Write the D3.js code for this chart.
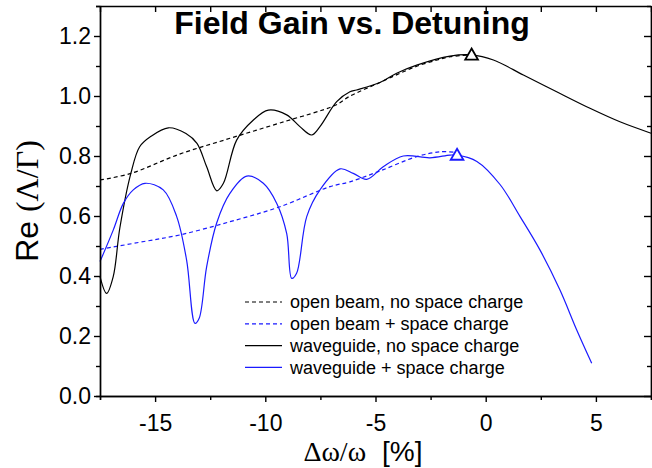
<!DOCTYPE html>
<meta charset="utf-8">
<style>
body { margin: 0; background: #fff; }
svg { display: block; }
.axis path, .axis line { stroke: #000; stroke-width: 1.4; }
.axis text { font-family: "Liberation Sans", Arial, sans-serif; font-size: 23px; fill: #000; }
.curve { fill: none; stroke-width: 1.2; }
.legend text { font-family: "Liberation Sans", Arial, sans-serif; font-size: 18px; fill: #000; }
</style>
<svg width="652" height="468"></svg>
<script src="https://d3js.org/d3.v7.min.js"></script>
<script>

// open beam, no space charge (dashed black)
var openNoScX = [-17.5, -16.1, -13.9, -11.6, -9.3, -6.8, -6.2, -4.8, -4.0, -3.1, -2.2, -1.6, -0.64];
var openNoScY = [0.720, 0.742, 0.806, 0.859, 0.911, 0.970, 0.998, 1.045, 1.072, 1.100, 1.120, 1.131, 1.137];

// open beam + space charge (dashed blue)
var openScX = [-17.5, -15.5, -13.87, -11.6, -9.33, -7.06, -6.16, -4.8, -3.13, -2.07, -1.3];
var openScY = [0.489, 0.515, 0.537, 0.581, 0.631, 0.698, 0.714, 0.750, 0.798, 0.814, 0.812];

// waveguide, no space charge (solid black)
var wgNoScX = [-17.5, -17.2, -16.9, -16.6, -16.1, -15.7, -15.2, -14.4, -13.6, -13.1, -12.66, -12.2, -11.9, -11.3, -10.54,
               -9.86, -9.03, -8.43, -7.9, -7.52, -6.76, -6.16, -5.86, -4.8, -4.04, -3.13, -1.62, -0.64, 0.35, 1.71, 3.22, 4.73, 6.09, 7.5];
var wgNoScY = [0.398, 0.342, 0.398, 0.56, 0.742, 0.831, 0.865, 0.894, 0.875, 0.842, 0.764, 0.684, 0.709, 0.853, 0.920,
               0.953, 0.937, 0.898, 0.870, 0.898, 0.981, 1.014, 1.020, 1.045, 1.076, 1.103, 1.133, 1.137, 1.12, 1.07, 1.014, 0.959, 0.914, 0.876];

// waveguide + space charge (solid blue)
var wgScX = [-17.5, -16.9, -16.44, -15.99, -15.46, -14.63, -14.02, -13.57, -13.19, -13.0, -12.66, -12.21, -11.6, -10.84, -10.09,
             -9.48, -9.03, -8.8, -8.58, -8.12, -7.52, -6.61, -6.01, -5.4, -4.65, -3.74, -2.53, -1.62, -1.3, -0.4, 0.65, 1.56,
             2.46, 3.37, 4.13, 4.81];
var wgScY = [0.448, 0.553, 0.642, 0.687, 0.709, 0.687, 0.598, 0.453, 0.242, 0.259, 0.431, 0.576, 0.676, 0.733, 0.709,
             0.642, 0.542, 0.392, 0.409, 0.598, 0.687, 0.757, 0.742, 0.722, 0.764, 0.800, 0.794, 0.803, 0.803, 0.782, 0.705, 0.598,
             0.487, 0.353, 0.220, 0.109];

// peak markers
var peakX = [-0.64, -1.3];
var peakY = [1.137, 0.803];
var peakColor = ["#000", "#1a1aff"];

var legendLabels = ["open beam, no space charge", "open beam + space charge",
                    "waveguide, no space charge", "waveguide + space charge"];

var xTicks = [-15, -10, -5, 0, 5];
var xMinor = [-17.5, -12.5, -7.5, -2.5, 2.5, 7.5];
var yTicks = [0, 0.2, 0.4, 0.6, 0.8, 1.0, 1.2];
var yMinor = [0.1, 0.3, 0.5, 0.7, 0.9, 1.1, 1.3];

var svg = d3.select("svg"),
    margin = {top: 6, right: 1, bottom: 72, left: 100},
    width = +svg.attr("width") - margin.left - margin.right,
    height = +svg.attr("height") - margin.top - margin.bottom;

var x = d3.scaleLinear().domain([-17.5, 7.5]).range([margin.left, margin.left + width]);
var y = d3.scaleLinear().domain([0, 1.3]).range([margin.top + height, margin.top]);

var blue = "#1a1aff";

// curves
var series = [
  {xs: openNoScX, ys: openNoScY, color: "#000", dash: "4,3"},
  {xs: openScX, ys: openScY, color: blue, dash: "4,3"},
  {xs: wgNoScX, ys: wgNoScY, color: "#000", dash: null},
  {xs: wgScX, ys: wgScY, color: blue, dash: null}
];

var line = d3.line()
  .x(function(d) { return x(d[0]); })
  .y(function(d) { return y(d[1]); })
  .curve(d3.curveCatmullRom.alpha(0.5));

svg.selectAll(".curve")
  .data(series)
  .enter().append("path")
  .attr("class", "curve")
  .attr("stroke", function(d) { return d.color; })
  .attr("stroke-dasharray", function(d) { return d.dash; })
  .attr("d", function(d) { return line(d3.zip(d.xs, d.ys)); });

// triangle markers at the peaks
svg.selectAll(".peak")
  .data(d3.range(peakX.length))
  .enter().append("path")
  .attr("class", "peak")
  .attr("transform", function(i) { return "translate(" + x(peakX[i]) + "," + (y(peakY[i]) + 1) + ")"; })
  .attr("d", d3.symbol().type(d3.symbolTriangle).size(70))
  .attr("fill", "#fff")
  .attr("stroke", function(i) { return peakColor[i]; })
  .attr("stroke-width", 1.8);

// axes: bottom/left outward ticks, top/right inward ticks
var bottomY = margin.top + height, rightX = margin.left + width;
var plain = function(d) { return String(d); };

svg.append("g").attr("class", "axis")
  .attr("transform", "translate(0," + bottomY + ")")
  .call(d3.axisBottom(x).tickValues(xMinor).tickSize(4).tickFormat(""));
svg.append("g").attr("class", "axis")
  .attr("transform", "translate(0," + bottomY + ")")
  .call(d3.axisBottom(x).tickValues(xTicks).tickSize(6).tickPadding(13).tickSizeOuter(0).tickFormat(plain));

svg.append("g").attr("class", "axis")
  .attr("transform", "translate(0," + margin.top + ")")
  .call(d3.axisBottom(x).tickValues(xTicks.concat(xMinor)).tickSize(6).tickSizeOuter(0).tickFormat(""));

svg.append("g").attr("class", "axis")
  .attr("transform", "translate(" + margin.left + ",0)")
  .call(d3.axisLeft(y).tickValues(yMinor).tickSize(4).tickFormat(""));
svg.append("g").attr("class", "axis")
  .attr("transform", "translate(" + margin.left + ",0)")
  .call(d3.axisLeft(y).tickValues(yTicks).tickSize(6).tickPadding(3).tickSizeOuter(0).tickFormat(d3.format(".1f")));

svg.append("g").attr("class", "axis")
  .attr("transform", "translate(" + rightX + ",0)")
  .call(d3.axisLeft(y).tickValues(yMinor).tickSize(4).tickSizeOuter(0).tickFormat(""));
svg.append("g").attr("class", "axis")
  .attr("transform", "translate(" + rightX + ",0)")
  .call(d3.axisLeft(y).tickValues(yTicks).tickSize(7).tickSizeOuter(0).tickFormat(""));

// title
svg.append("text")
  .attr("x", 352)
  .attr("y", 34)
  .attr("text-anchor", "middle")
  .style("font-family", "'Liberation Sans', Arial, sans-serif")
  .style("font-weight", "bold")
  .style("font-size", "32px")
  .text("Field Gain vs. Detuning");

// y axis label
var yl = svg.append("text")
  .attr("transform", "translate(38,201) rotate(-90)")
  .attr("text-anchor", "middle")
  .style("font-size", "32px");
yl.append("tspan").style("font-family", "'Liberation Sans', Arial, sans-serif").text("Re ");
yl.append("tspan").style("font-family", "'Liberation Serif', 'Times New Roman', serif").text("(\u039B/\u0393)");

// x axis label
var xl = svg.append("text")
  .attr("x", 363)
  .attr("y", 461)
  .attr("text-anchor", "middle")
  .style("font-size", "28px");
xl.append("tspan").style("font-family", "'Liberation Serif', 'Times New Roman', serif").text("\u0394\u03C9/\u03C9");
xl.append("tspan").attr("dx", 16).style("font-family", "'Liberation Sans', Arial, sans-serif").text("[%]");

// legend
var legend = svg.append("g").attr("class", "legend");
var rows = legend.selectAll("g")
  .data(series)
  .enter().append("g")
  .attr("transform", function(d, i) { return "translate(245," + (302 + i * 21.8) + ")"; });

rows.append("line")
  .attr("x1", 0).attr("x2", 37)
  .attr("stroke", function(d) { return d.color; })
  .attr("stroke-width", 1.2)
  .attr("stroke-dasharray", function(d) { return d.dash; });

rows.append("text")
  .attr("x", 45)
  .attr("dy", "0.35em")
  .text(function(d, i) { return legendLabels[i]; });
</script>
